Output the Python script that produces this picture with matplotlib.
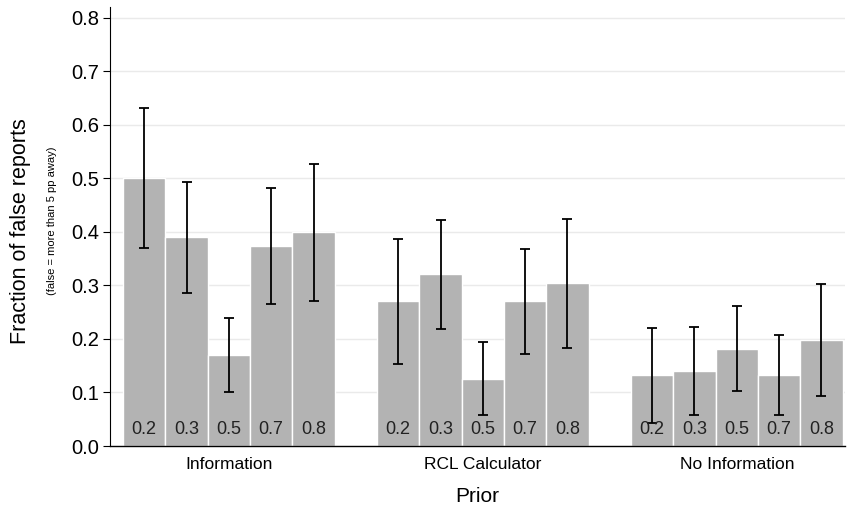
import numpy as np
import matplotlib
matplotlib.use('Agg')
import matplotlib.pyplot as plt

groups = ["Information", "RCL Calculator", "No Information"]
priors = ["0.2", "0.3", "0.5", "0.7", "0.8"]

info = [0.500, 0.390, 0.170, 0.374, 0.399]
info_err = [0.131, 0.104, 0.070, 0.108, 0.128]
rcl = [0.270, 0.321, 0.126, 0.270, 0.304]
rcl_err = [0.117, 0.102, 0.069, 0.098, 0.120]
noinfo = [0.132, 0.140, 0.182, 0.132, 0.198]
noinfo_err = [0.089, 0.083, 0.080, 0.075, 0.105]

yticks = [0.0, 0.1, 0.2, 0.3, 0.4, 0.5, 0.6, 0.7, 0.8]


def plot():
    plt.rcParams['font.family'] = ['Liberation Sans', 'DejaVu Sans']

    fig = plt.figure(figsize=(8.49, 5.07), dpi=100)
    ax = fig.add_axes([0.1296, 0.1203, 0.8654, 0.8657])

    series = [info, rcl, noinfo]
    errs = [info_err, rcl_err, noinfo_err]
    n = len(priors)
    centers = []
    for g, (vals, err) in enumerate(zip(series, errs)):
        xs = np.arange(n) + g * (n + 1)
        centers.append(xs.mean())
        ax.bar(xs, vals, width=1.0, color='#b3b3b3', edgecolor='white',
               linewidth=1.0, zorder=2)
        ax.errorbar(xs, vals, yerr=err, fmt='none', ecolor='black',
                    elinewidth=1.3, capsize=3.3, capthick=1.3, zorder=3)
        for x, lab in zip(xs, priors):
            ax.annotate(lab, (x, 0), xytext=(0, 9), textcoords='offset points',
                        ha='center', va='baseline', fontsize=13, color='#222222',
                        zorder=4)

    ax.set_xlim(-0.807, 3 * n + 1.55)
    ax.set_ylim(0, 0.82)
    ax.set_yticks(yticks)
    ax.set_yticklabels(['%.1f' % t for t in yticks], fontsize=14.5)
    ax.set_xticks(centers)
    ax.set_xticklabels(groups, fontsize=12.5)
    ax.tick_params(axis='x', length=0, pad=8)
    ax.tick_params(axis='y', length=5, width=0.8, pad=3)

    for t in yticks[1:]:
        ax.axhline(t, color='#eaeaea', linewidth=1.0, zorder=0)

    ax.spines['top'].set_visible(False)
    ax.spines['right'].set_visible(False)
    ax.spines['left'].set_linewidth(0.8)
    ax.spines['bottom'].set_linewidth(1.0)

    ax.set_xlabel('Prior', fontsize=15, labelpad=11)
    fig.text(0.024, 0.544, 'Fraction of false reports', rotation=90,
             ha='center', va='center', fontsize=15.5)
    fig.text(0.061, 0.564, '(false = more than 5 pp away)', rotation=90,
             ha='center', va='center', fontsize=8)

    fig.savefig('out.png', dpi=100)


def main():
    plot()


if __name__ == '__main__':
    main()
